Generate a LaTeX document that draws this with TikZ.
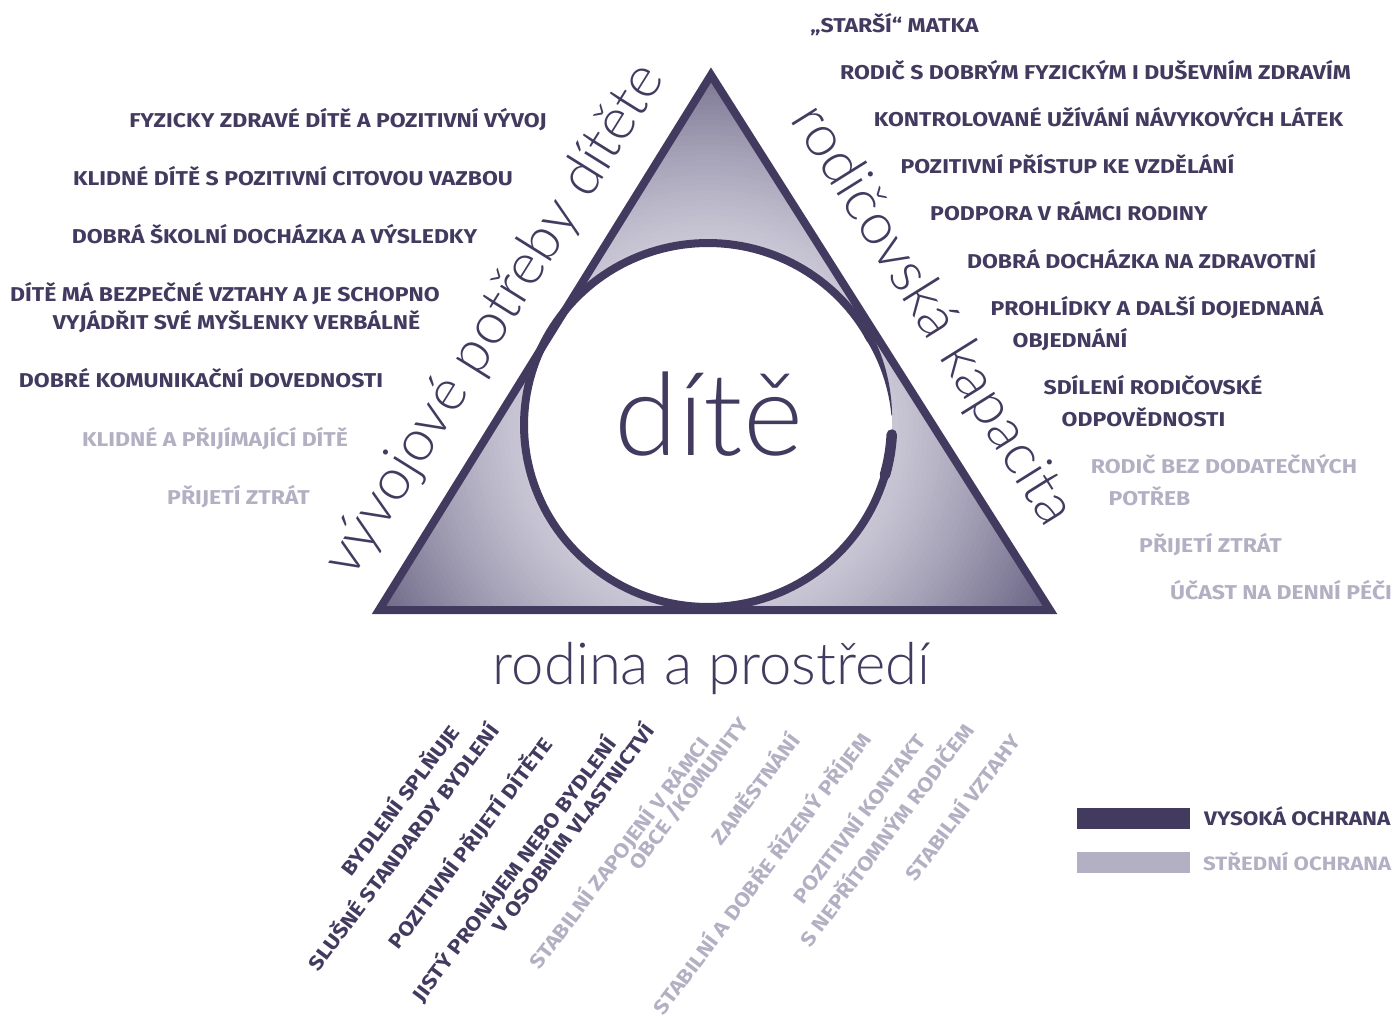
\documentclass[tikz,border=0pt]{standalone}
\usepackage{fontspec}
\setmainfont{Fira Sans}[FakeStretch=1.15]
\newfontfamily\thinfont{Lato Light}
\definecolor{dk}{HTML}{433A60}
\definecolor{lt}{HTML}{B3B0C3}
\definecolor{shin}{HTML}{C9C6D5}
\definecolor{shout}{HTML}{6C6786}
\begin{document}
\begin{tikzpicture}[x=1pt,y=-1pt,
  lab/.style={font=\bfseries\fontsize{20}{20}\selectfont, text=dk, text height=13.5pt, text depth=0pt, inner sep=0pt},
  labl/.style={lab, text=lt},
  rot/.style={rotate=53},
  big/.style={font=\thinfont\fontsize{58}{58}\selectfont, text=dk, inner sep=0pt}]
\useasboundingbox (0,0) rectangle (1395,1019);
\coordinate (T) at (711,75);
\coordinate (BL) at (379,610);
\coordinate (BR) at (1050,610);
\begin{scope}
  \clip (T) -- (BR) -- (BL) -- cycle;
  \foreach \i in {0,...,43} {
    \pgfmathsetmacro\rr{400-5*\i}
    \pgfmathsetmacro\pp{100*pow(max(0.001,min(1,(\rr-185)/195)),1.2)}
    \fill[shout!\pp!shin] (708,425) circle[radius=\rr];
  }
\end{scope}
\fill[white] (708,425) ellipse[x radius=184, y radius=182];
\draw[dk, line width=8pt, line join=miter] (T) -- (BR) -- (BL) -- cycle;
% brush circle
\draw[dk, line width=8pt, line cap=round] plot[domain=5:332, samples=160] ({708+184*cos(\x)}, {425+182*sin(\x)});
\draw[dk, line width=10.5pt, line cap=round] plot[domain=3:16, samples=12] ({708+184*cos(\x)}, {425+182*sin(\x)});
\fill[dk] plot[domain=330:357, samples=40] ({708+(184+0.3+3.7*(357-\x)/27)*cos(\x)}, {425+(182+0.3+3.7*(357-\x)/27)*sin(\x)})
  -- plot[domain=357:330, samples=40] ({708+(184-0.3-3.7*(357-\x)/27)*cos(\x)}, {425+(182-0.3-3.7*(357-\x)/27)*sin(\x)}) -- cycle;
% big labels
\node[big, font=\thinfont\fontsize{115}{115}\selectfont, anchor=base] (child) at (709,455) {dítě};
\node[big, anchor=base] (family) at (711.5,684) {rodina a prostředí};
\node[big, anchor=base, rotate=58] (needs) at (509,329) {vývojové potřeby dítěte};
\node[big, anchor=base, rotate=-58] (capacity) at (918,324) {rodičovská kapacita};
% left labels
\node[lab] (l1) at (338,121) {FYZICKY ZDRAVÉ DÍTĚ A POZITIVNÍ VÝVOJ};
\node[lab] (l2) at (293,179) {KLIDNÉ DÍTĚ S POZITIVNÍ CITOVOU VAZBOU};
\node[lab] (l3) at (274.5,237) {DOBRÁ ŠKOLNÍ DOCHÁZKA A VÝSLEDKY};
\node[lab] (l4) at (225,295) {DÍTĚ MÁ BEZPEČNÉ VZTAHY A JE SCHOPNO};
\node[lab] (l5) at (236.5,323) {VYJÁDŘIT SVÉ MYŠLENKY VERBÁLNĚ};
\node[lab] (l6) at (201,381) {DOBRÉ KOMUNIKAČNÍ DOVEDNOSTI};
\node[labl] (l7) at (215,440) {KLIDNÉ A PŘIJÍMAJÍCÍ DÍTĚ};
\node[labl] (l8) at (238.5,498) {PŘIJETÍ ZTRÁT};
% right labels
\node[lab] (r1) at (894.5,26) {„STARŠÍ“ MATKA};
\node[lab] (r2) at (1095.5,73) {RODIČ S DOBRÝM FYZICKÝM I DUŠEVNÍM ZDRAVÍM};
\node[lab] (r3) at (1108.5,120) {KONTROLOVANÉ UŽÍVÁNÍ NÁVYKOVÝCH LÁTEK};
\node[lab] (r4) at (1067.5,167) {POZITIVNÍ PŘÍSTUP KE VZDĚLÁNÍ};
\node[lab] (r5) at (1069,214) {PODPORA V RÁMCI RODINY};
\node[lab] (r6) at (1141.5,262) {DOBRÁ DOCHÁZKA NA ZDRAVOTNÍ};
\node[lab] (r7) at (1157,309) {PROHLÍDKY A DALŠÍ DOJEDNANÁ};
\node[lab] (r8) at (1070,341) {OBJEDNÁNÍ};
\node[lab] (r9) at (1153,388) {SDÍLENÍ RODIČOVSKÉ};
\node[lab] (r10) at (1143.5,420) {ODPOVĚDNOSTI};
\node[labl] (r11) at (1224,467) {RODIČ BEZ DODATEČNÝCH};
\node[labl] (r12) at (1149.5,499) {POTŘEB};
\node[labl] (r13) at (1210.5,546) {PŘIJETÍ ZTRÁT};
\node[labl] (r14) at (1281,593) {ÚČAST NA DENNÍ PÉČI};
% bottom labels
\node[lab, rot] (b1) at (401,801) {BYDLENÍ SPLŇUJE};
\node[lab, rot] (b2) at (404,847.5) {SLUŠNÉ STANDARDY BYDLENÍ};
\node[lab, rot] (b3) at (471,843.5) {POZITIVNÍ PŘIJETÍ DÍTĚTE};
\node[lab, rot] (b4) at (515,869.5) {JISTÝ PRONÁJEM NEBO BYDLENÍ};
\node[lab, rot] (b5) at (574,829) {V OSOBNÍM VLASTNICTVÍ};
\node[labl, rot] (b6) at (620,853.5) {STABILNÍ ZAPOJENÍ V RÁMCI};
\node[labl, rot] (b7) at (689,794) {OBCE /KOMUNITY};
\node[labl, rot] (b8) at (756,790) {ZAMĚSTNÁNÍ};
\node[labl, rot] (b9) at (762.5,874) {STABILNÍ A DOBŘE ŘÍZENÝ PŘÍJEM};
\node[labl, rot] (b10) at (860,819) {POZITIVNÍ KONTAKT};
\node[labl, rot] (b11) at (887.5,835.5) {S NEPŘÍTOMNÝM RODIČEM};
\node[labl, rot] (b12) at (963.5,808) {STABILNÍ VZTAHY};
% legend
\node[fill=dk, minimum width=113pt, minimum height=21pt, inner sep=0pt] (barhigh) at (1133.5,818.5) {};
\node[fill=lt, minimum width=113pt, minimum height=21pt, inner sep=0pt] (barmid) at (1133.5,862.5) {};
\node[lab, anchor=west, font=\bfseries\fontsize{19.6}{20}\selectfont] (leghigh) at (1204,819) {VYSOKÁ OCHRANA};
\node[labl, anchor=west, font=\bfseries\fontsize{19.3}{20}\selectfont] (legmid) at (1203,864) {STŘEDNÍ OCHRANA};
\end{tikzpicture}
\end{document}
